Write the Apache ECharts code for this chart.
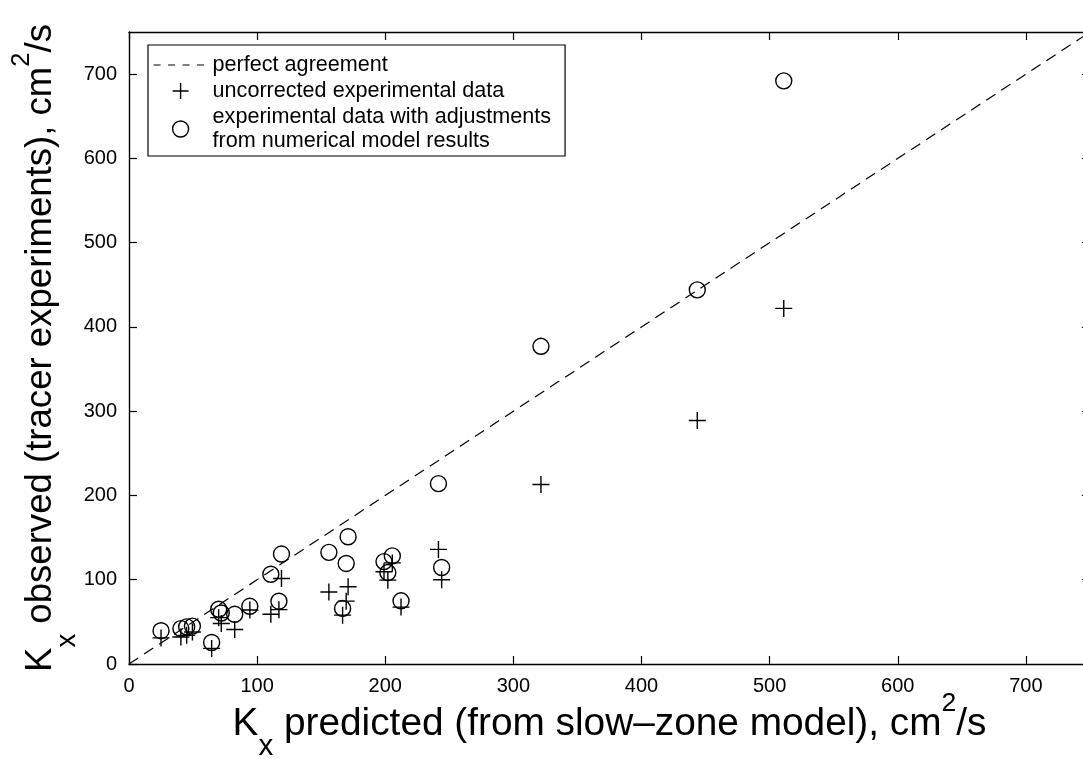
<!DOCTYPE html>
<html>
<head>
<meta charset="utf-8">
<title>Kx predicted vs observed</title>
<script src="https://cdn.jsdelivr.net/npm/echarts@6/dist/echarts.min.js"></script>
<style>
  html, body { margin: 0; padding: 0; background: #fff; }
  #chart { width: 1083px; height: 759px; }
</style>
</head>
<body>
<div id="chart"></div>
<script>
// Predicted Kx (slow-zone model), cm^2/s, one entry per tracer experiment
const predicted = [25, 40.5, 45, 49.5, 64.5, 70, 72, 82.5, 94.3, 110.7, 117, 119,
  156, 166.7, 169.5, 171, 199, 202, 205.5, 212.3, 241.5, 244, 321.5, 443.5, 511];
// Observed Kx, uncorrected experimental data
const uncorrected = [31, 32, 34, 38, 18.5, 55, 48, 41, 64, 59, 64.5, 101.5,
  85.5, 58, 74.6, 91.6, 109.4, 99.5, 120, 67.5, 136, 100, 213, 289, 422];
// Observed Kx, adjusted with numerical model results
const adjusted = [39.5, 42, 44, 45, 25.5, 65, 60.5, 59, 68.5, 106.5, 74.5, 130.5,
  132.5, 66, 119.3, 151, 121.5, 108.5, 128.3, 75, 214, 114.5, 377, 444, 692];

const axisMax = 750;
const tickStep = 100;
const seriesNames = [
  'perfect agreement',
  'uncorrected experimental data',
  'experimental data with adjustments\nfrom numerical model results'
];

const FONT = 'Liberation Sans, Arial, Helvetica, sans-serif';
const INK = '#000';

const plusPath = 'path://M10,0L10,20M0,10L20,10';

const chart = echarts.init(document.getElementById('chart'), null, { renderer: 'canvas' });

function axisCommon(extra) {
  return Object.assign({
    type: 'value',
    min: 0,
    max: axisMax,
    interval: tickStep,
    nameMoveOverlap: false,
    axisLine: { show: true, onZero: false, lineStyle: { color: INK, width: 1.4 } },
    axisTick: { show: true, inside: true, length: 8, lineStyle: { color: INK, width: 1.2 } },
    splitLine: { show: false }
  }, extra);
}

const option = {
  backgroundColor: '#fff',
  animation: false,
  textStyle: { fontFamily: FONT, color: INK },
  grid: {
    left: 129, right: -7, top: 32, bottom: 95,
    containLabel: false,
    outerBoundsMode: 'none'
  },
  legend: {
    orient: 'vertical',
    left: 148,
    top: 45,
    padding: [8, 14, 3, 5],
    itemGap: 2,
    itemWidth: 54,
    itemHeight: 16,
    borderColor: INK,
    borderWidth: 1.2,
    backgroundColor: '#fff',
    selectedMode: false,
    itemStyle: { borderWidth: 1.4 },
    textStyle: { fontFamily: FONT, fontSize: 21.6, color: INK, lineHeight: 24 },
    data: [
      {
        name: seriesNames[0],
        lineStyle: { type: [7, 7.5], width: 1.2 },
        itemStyle: { color: 'rgba(0,0,0,0)', borderWidth: 0, opacity: 0 }
      },
      { name: seriesNames[1] },
      { name: seriesNames[2] }
    ]
  },
  xAxis: [
    axisCommon({
      position: 'bottom',
      name: '{k|K}{sub|x}{t| predicted (from slow\u2013zone model), cm}{sup|2}{t|/s}',
      nameLocation: 'middle',
      nameGap: 22,
      nameTextStyle: {
        rich: {
          k: { fontSize: 38.8, fontFamily: FONT, color: INK },
          t: { fontSize: 38.8, fontFamily: FONT, color: INK },
          sub: { fontSize: 29.5, fontFamily: FONT, color: INK, padding: [46, 0, 0, 0] },
          sup: { fontSize: 26.5, fontFamily: FONT, color: INK, padding: [0, 0, 40, 0] }
        }
      },
      axisLabel: { show: true, margin: 12, fontSize: 20, fontFamily: FONT, color: INK, showMaxLabel: false }
    }),
    axisCommon({
      position: 'top',
      axisLabel: { show: false }
    })
  ],
  yAxis: [
    axisCommon({
      position: 'left',
      name: '{k|K}{sub|x}{t| observed (tracer experiments), cm}{sup|2}{t|/s}',
      nameLocation: 'middle',
      nameGap: 48,
      nameTextStyle: {
        rich: {
          k: { fontSize: 36.6, fontFamily: FONT, color: INK },
          t: { fontSize: 36.6, fontFamily: FONT, color: INK },
          sub: { fontSize: 27.5, fontFamily: FONT, color: INK, padding: [52, 0, 0, 0] },
          sup: { fontSize: 25.5, fontFamily: FONT, color: INK, padding: [0, 0, 38, 0] }
        }
      },
      axisLabel: { show: true, margin: 12, fontSize: 20, fontFamily: FONT, color: INK, showMaxLabel: false }
    }),
    axisCommon({
      position: 'right',
      axisLabel: { show: false }
    })
  ],
  series: [
    {
      name: seriesNames[0],
      type: 'line',
      xAxisIndex: 0,
      yAxisIndex: 0,
      symbol: 'none',
      silent: true,
      data: [[0, 0], [axisMax, axisMax]],
      lineStyle: { color: INK, width: 1.2, type: [11, 7] },
      itemStyle: { color: INK },
      z: 1
    },
    {
      name: seriesNames[1],
      type: 'scatter',
      xAxisIndex: 0,
      yAxisIndex: 0,
      symbol: plusPath,
      symbolSize: 17,
      data: predicted.map((x, i) => [x, uncorrected[i]]),
      itemStyle: { color: 'rgba(0,0,0,0)', borderColor: INK, borderWidth: 1.4, opacity: 1 },
      z: 3
    },
    {
      name: seriesNames[2],
      type: 'scatter',
      xAxisIndex: 0,
      yAxisIndex: 0,
      symbol: 'circle',
      symbolSize: 16,
      data: predicted.map((x, i) => [x, adjusted[i]]),
      itemStyle: { color: 'rgba(0,0,0,0)', borderColor: INK, borderWidth: 1.4, opacity: 1 },
      z: 3
    }
  ]
};

chart.setOption(option);
</script>
</body>
</html>
